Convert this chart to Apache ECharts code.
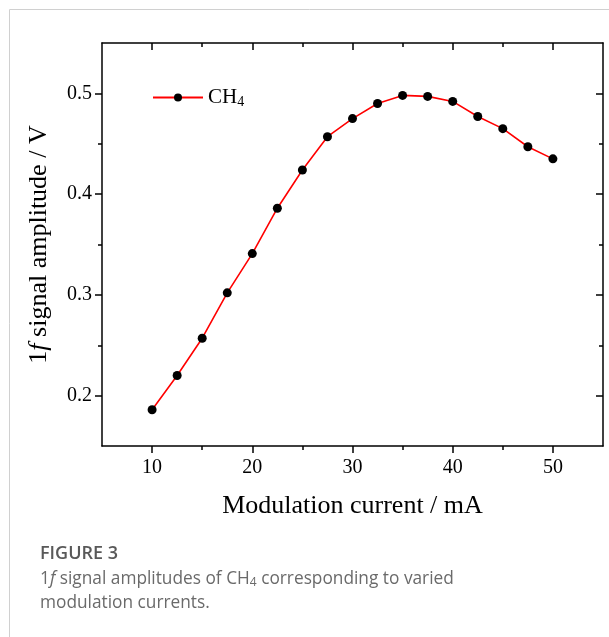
<!DOCTYPE html>
<html><head><meta charset="utf-8">
<script src="https://cdn.jsdelivr.net/npm/echarts@6/dist/echarts.min.js"></script>
<style>html,body{margin:0;padding:0;background:#fff}#c{width:609px;height:637px}</style>
</head><body><div id="c"></div>
<script>
const currents = [10,12.5,15,17.5,20,22.5,25,27.5,30,32.5,35,37.5,40,42.5,45,47.5,50];
const amplitudes = [0.186,0.220,0.257,0.302,0.341,0.386,0.424,0.457,0.475,0.490,0.498,0.497,0.492,0.477,0.465,0.447,0.435];
const xMajor = [10,20,30,40,50];
const xMinor = [15,25,35,45];
const yMajor = [0.2,0.3,0.4,0.5];
const yMinor = [0.25,0.35,0.45];

const serif = 'Liberation Serif';
const chart = echarts.init(document.getElementById('c'));
const xBase = {type:'value', min:5, max:55, splitLine:{show:false}};
const yBase = {type:'value', min:0.15, max:0.55, splitLine:{show:false}};
const lineStyle = {color:'#000', width:1.5};
chart.setOption({
  animation:false,
  grid:{left:102, top:43, right:6, bottom:191, containLabel:false},
  legend:{
    left:147, top:82, itemWidth:50, itemHeight:10, itemGap:4,
    formatter:()=>'{a|CH}{s|4}',
    textStyle:{rich:{a:{fontFamily:serif,fontSize:21,color:'#000'},s:{fontFamily:serif,fontSize:14,color:'#000',verticalAlign:'bottom',padding:[10,0,0,0]}}}
  },
  xAxis:[
    Object.assign({}, xBase, {position:'bottom', axisLine:{show:true,lineStyle},
      axisTick:{show:true, inside:false, length:7, lineStyle, customValues:xMajor},
      axisLabel:{show:true, customValues:xMajor, margin:12, fontFamily:serif, fontSize:20, color:'#000'},
      name:'Modulation current / mA', nameLocation:'middle', nameGap:47,
      nameTextStyle:{fontFamily:serif, fontSize:26, color:'#000'}}),
    Object.assign({}, xBase, {position:'bottom', axisLine:{show:false},
      axisTick:{show:true, inside:false, length:4, lineStyle, customValues:xMinor}, axisLabel:{show:false}}),
    Object.assign({}, xBase, {position:'top', axisLine:{show:true,lineStyle},
      axisTick:{show:true, inside:true, length:7, lineStyle, customValues:xMajor}, axisLabel:{show:false}}),
    Object.assign({}, xBase, {position:'top', axisLine:{show:false},
      axisTick:{show:true, inside:true, length:4, lineStyle, customValues:xMinor}, axisLabel:{show:false}})
  ],
  yAxis:[
    Object.assign({}, yBase, {position:'left', axisLine:{show:true,lineStyle},
      axisTick:{show:true, inside:false, length:7, lineStyle, customValues:yMajor},
      axisLabel:{show:true, customValues:yMajor, margin:10, fontFamily:serif, fontSize:20, color:'#000', formatter:v=>v.toFixed(1)},
      name:'{a|1}{i|f}{a| signal amplitude / V}', nameLocation:'middle', nameGap:50,
      nameTextStyle:{rich:{a:{fontFamily:serif,fontSize:26,color:'#000'},i:{fontFamily:serif,fontSize:26,fontStyle:'italic',color:'#000'}}}}),
    Object.assign({}, yBase, {position:'left', axisLine:{show:false},
      axisTick:{show:true, inside:false, length:4, lineStyle, customValues:yMinor}, axisLabel:{show:false}}),
    Object.assign({}, yBase, {position:'right', axisLine:{show:true,lineStyle},
      axisTick:{show:true, inside:true, length:7, lineStyle, customValues:yMajor}, axisLabel:{show:false}}),
    Object.assign({}, yBase, {position:'right', axisLine:{show:false},
      axisTick:{show:true, inside:true, length:4, lineStyle, customValues:yMinor}, axisLabel:{show:false}})
  ],
  series:[{
    name:'CH4', type:'line', xAxisIndex:0, yAxisIndex:0,
    data: currents.map((x,i)=>[x, amplitudes[i]]),
    symbol:'circle', symbolSize:9,
    itemStyle:{color:'#000'}, lineStyle:{color:'#ff0000', width:1.6}
  }],
  graphic:[
    {type:'line', shape:{x1:9.5,y1:9.5,x2:609,y2:9.5}, style:{stroke:'#d0d0d0', lineWidth:1}},
    {type:'line', shape:{x1:9.5,y1:9.5,x2:9.5,y2:637}, style:{stroke:'#d0d0d0', lineWidth:1}},
    {type:'text', left:40, top:545, style:{text:'FIGURE 3', font:'600 18px "Open Sans"', fill:'#595959'}},
    {type:'text', left:40, top:569, style:{
      text:'{n|1}{i|f}{n| signal amplitudes of CH}{s|4}{n| corresponding to varied}\n{n|modulation currents.}',
      rich:{n:{fontFamily:'Open Sans',fontSize:17.3,fill:'#6a6a6a',lineHeight:24},
            i:{fontFamily:'Open Sans',fontSize:17.3,fontStyle:'italic',fill:'#6a6a6a',lineHeight:24},
            s:{fontFamily:'Open Sans',fontSize:12,fill:'#6a6a6a',lineHeight:24,padding:[8,0,0,0]}}}}
  ]
});
</script></body></html>
